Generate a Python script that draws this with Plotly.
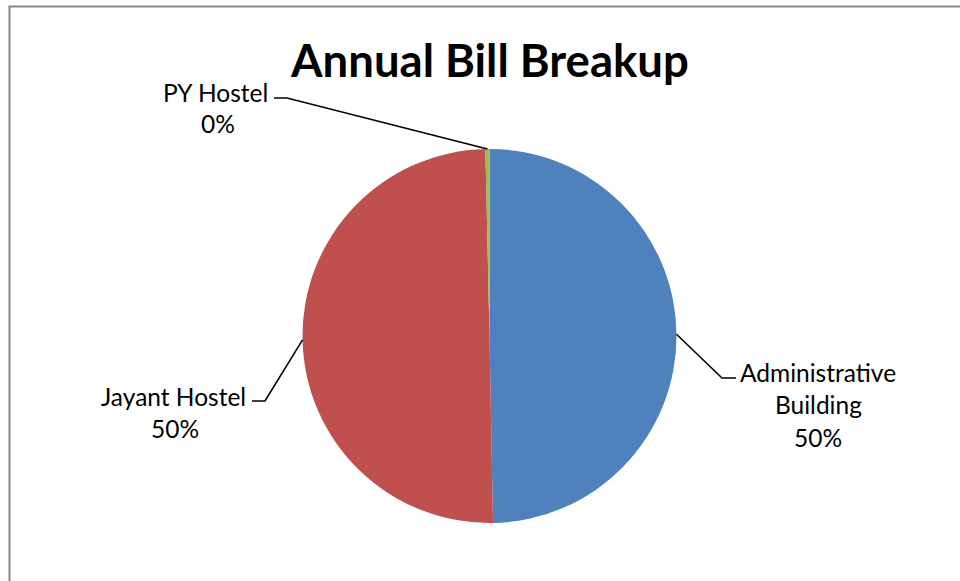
import math
import plotly.graph_objects as go

# Annual electricity bill share by building
buildings = ["Administrative Building", "Jayant Hostel", "PY Hostel"]
share = [49.7, 49.95, 0.35]
colors = ["#4F81BD", "#C0504D", "#9BBB59"]
# label lines; the span splits "ti" so it is not drawn as a ligature
label_lines = [["Administra<span style='color:black'>t</span>ive", "Building"], ["Jayant Hostel"], ["PY Hostel"]]

W, H = 960, 581
cx, cy, r = 489.5, 336.0, 187.0  # pie centre / radius in pixels
FONT = "Lato"
LABEL_SIZE = 24.5

def px(x):
    return x / W

def py(y):
    return 1 - y / H

fig = go.Figure(
    go.Pie(
        labels=buildings,
        values=share,
        sort=False,
        direction="clockwise",
        rotation=0,
        marker=dict(colors=colors, line=dict(width=0)),
        textinfo="none",
        hoverinfo="label+percent",
        showlegend=False,
        domain=dict(x=[px(cx - r), px(cx + r)], y=[py(cy + r), py(cy - r)]),
    )
)

# mid-angle of each slice (degrees clockwise from 12 o'clock)
total = sum(share)
mids = []
acc = 0.0
for v in share:
    mids.append((acc + v / 2) / total * 360)
    acc += v

def edge_point(angle_deg):
    a = math.radians(angle_deg)
    return cx + r * math.sin(a), cy - r * math.cos(a)

# leader line elbows / ends and label placement (pixels)
leaders = [
    dict(elbow=(722, 378), end=(736, 378), x=818, anchor="center", ys=[372, 404], pct_xy=(818, 437)),
    dict(elbow=(265, 401), end=(252, 401), x=248, anchor="right", ys=[396], pct_xy=(175, 428)),
    dict(elbow=(287, 98), end=(274, 98), x=270, anchor="right", ys=[92], pct_xy=(218, 124)),
]

shapes = []
annotations = []

def text_ann(text, x, y, anchor, size=LABEL_SIZE, bold=False):
    return dict(text=("<b>%s</b>" % text) if bold else text, x=px(x), y=py(y),
                xref="paper", yref="paper", xanchor=anchor, yanchor="middle",
                showarrow=False, font=dict(family=FONT, size=size, color="black"))

for i, ld in enumerate(leaders):
    sx, sy = edge_point(mids[i])
    path = "M {} {} L {} {} L {} {}".format(
        px(sx), py(sy), px(ld["elbow"][0]), py(ld["elbow"][1]), px(ld["end"][0]), py(ld["end"][1])
    )
    shapes.append(dict(type="path", xref="paper", yref="paper", path=path,
                       line=dict(color="black", width=1.6)))
    for line, y in zip(label_lines[i], ld["ys"]):
        annotations.append(text_ann(line, ld["x"], y, ld["anchor"]))
    pct = "{:.0f}%".format(share[i] / total * 100)
    annotations.append(text_ann(pct, ld["pct_xy"][0], ld["pct_xy"][1], "center"))

# chart frame
shapes.append(dict(type="rect", xref="paper", yref="paper", x0=px(9.5), y0=py(600), x1=px(990), y1=py(6.5),
                   line=dict(color="#878787", width=2), layer="above"))

annotations.append(text_ann("Annual Bill Breakup", 489.5, 59, "center", size=45.5, bold=True))

fig.update_layout(
    width=W, height=H,
    margin=dict(l=0, r=0, t=0, b=0),
    paper_bgcolor="white", plot_bgcolor="white",
    shapes=shapes, annotations=annotations,
)

fig.write_html("out.html")
